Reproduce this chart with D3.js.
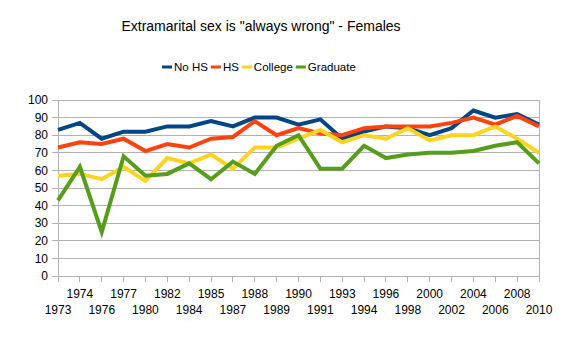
<!DOCTYPE html>
<html>
<head>
<meta charset="utf-8">
<script src="https://cdn.jsdelivr.net/npm/d3@7"></script>
<style>
html,body{margin:0;padding:0;background:#fff;}
svg{display:block;font-family:"Liberation Sans",Arial,sans-serif;}
</style>
</head>
<body>
<svg id="chart" width="576" height="341"></svg>
<script>
const years = ["1973","1974","1976","1977","1980","1982","1984","1985","1987","1988","1989","1990","1991","1993","1994","1996","1998","2000","2002","2004","2006","2008","2010"];
const noHS     = [83,87,78,82,82,85,85,88,85,90,90,86,89,78,82,85,84,80,84,94,90,92,86];
const hs       = [73,76,75,78,71,75,73,78,79,88,80,84,81,80,84,85,85,85,87,90,86,91,85];
const college  = [57,58,55,62,54,67,64,69,61,73,73,78,83,76,80,78,84,77,80,80,85,78,70];
const graduate = [43,62,25,68,57,58,64,55,65,58,74,80,61,61,74,67,69,70,70,71,74,76,64];
const seriesNames = ["No HS","HS","College","Graduate"];
const colors = ["#004586","#ff420e","#ffd320","#579d1c"];
const yTicks = [0,10,20,30,40,50,60,70,80,90,100];
const title = 'Extramarital sex is "always wrong" - Females';

(function(){
const series = [noHS, hs, college, graduate];
const svg = d3.select("#chart");
const pL = 58, pR = 539, pT = 100, pB = 276;

const x = d3.scalePoint().domain(years).range([pL, pR]);
const y = d3.scaleLinear().domain([0,100]).range([pB, pT]);

svg.append("text").attr("x", 261).attr("y", 31).attr("text-anchor","middle")
  .attr("font-size", 14).attr("fill","#000").text(title);

const g = svg.append("g");
yTicks.forEach(t => {
  g.append("line").attr("x1", pL-6).attr("x2", pR).attr("y1", y(t)).attr("y2", y(t))
    .attr("stroke", "#b3b3b3").attr("stroke-width", 1).attr("shape-rendering","crispEdges");
  g.append("text").attr("x", 48).attr("y", y(t)).attr("dy","0.35em").attr("text-anchor","end")
    .attr("font-size", 12).attr("fill","#000").text(t);
});
g.append("line").attr("x1", pL).attr("x2", pL).attr("y1", pT).attr("y2", pB)
  .attr("stroke","#b3b3b3").attr("shape-rendering","crispEdges");
g.append("line").attr("x1", pR).attr("x2", pR).attr("y1", pT).attr("y2", pB+6)
  .attr("stroke","#b3b3b3").attr("shape-rendering","crispEdges");
years.forEach((yr, i) => {
  g.append("line").attr("x1", x(yr)).attr("x2", x(yr)).attr("y1", pB).attr("y2", pB+6)
    .attr("stroke","#b3b3b3").attr("shape-rendering","crispEdges");
  g.append("text").attr("x", x(yr)).attr("y", i % 2 === 0 ? 314 : 298).attr("text-anchor","middle")
    .attr("font-size", 12).attr("fill","#000").text(yr);
});

const line = d3.line().x((d,i) => x(years[i])).y(d => y(d));
series.forEach((s, k) => {
  svg.append("path").datum(s).attr("d", line).attr("fill","none")
    .attr("stroke", colors[k]).attr("stroke-width", 4).attr("stroke-linejoin","miter");
});

const leg = svg.append("g");
let lx = 162;
seriesNames.forEach((n, k) => {
  leg.append("line").attr("x1", lx).attr("x2", lx+10).attr("y1", 67).attr("y2", 67)
    .attr("stroke", colors[k]).attr("stroke-width", 3);
  const t = leg.append("text").attr("x", lx+12).attr("y", 67).attr("dy","0.35em")
    .attr("font-size", 11.5).attr("fill","#000").text(n);
  lx += 12 + t.node().getComputedTextLength() + 3;
});
})();
</script>
</body>
</html>
